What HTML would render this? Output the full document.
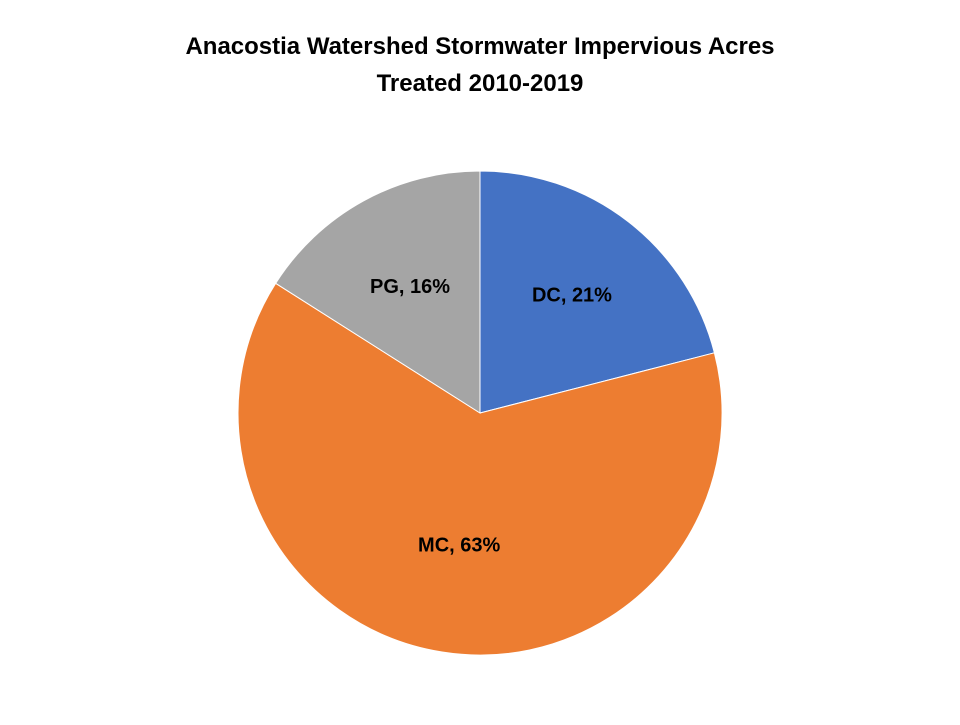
<!DOCTYPE html>
<html>
<head>
<meta charset="utf-8">
<style>
  html,body{margin:0;padding:0;background:#fff;}
  body{width:960px;height:720px;overflow:hidden;font-family:"Liberation Sans",sans-serif;}
  svg text{font-family:"Liberation Sans",sans-serif;font-weight:bold;}
</style>
</head>
<body>
<svg id="chart" width="960" height="720" viewBox="0 0 960 720">
  <rect width="960" height="720" fill="#fff"/>
  <text x="480" y="54" text-anchor="middle" font-size="24" fill="#000">Anacostia Watershed  Stormwater Impervious Acres</text>
  <text x="480" y="91" text-anchor="middle" font-size="24" fill="#000">Treated  2010-2019</text>
  <g id="slices"></g>
  <g id="labels"></g>
</svg>
<script>
const categories = ["DC", "MC", "PG"];
const values = [21, 63, 16];
const colors = ["#4472C4", "#ED7D31", "#A5A5A5"];
const labelRadiusFrac = [0.62, 0.55, 0.6];

const cx = 480, cy = 413, r = 242;
const NS = "http://www.w3.org/2000/svg";
const total = values.reduce((a,b)=>a+b,0);
function pt(angle, rad){ return [cx + rad*Math.sin(angle), cy - rad*Math.cos(angle)]; }

const gS = document.getElementById('slices');
const gL = document.getElementById('labels');
let start = 0;
values.forEach((v,i)=>{
  const sweep = v/total*2*Math.PI;
  const end = start + sweep;
  const [x1,y1] = pt(start, r), [x2,y2] = pt(end, r);
  const large = sweep > Math.PI ? 1 : 0;
  const p = document.createElementNS(NS,'path');
  p.setAttribute('d', `M${cx},${cy} L${x1},${y1} A${r},${r} 0 ${large} 1 ${x2},${y2} Z`);
  p.setAttribute('fill', colors[i]);
  p.setAttribute('stroke', '#fff');
  p.setAttribute('stroke-width', '1');
  
  
  gS.appendChild(p);

  const mid = start + sweep/2;
  const [lx,ly] = pt(mid, r*labelRadiusFrac[i]);
  const t = document.createElementNS(NS,'text');
  t.setAttribute('x', lx);
  t.setAttribute('y', ly + 7);
  t.setAttribute('text-anchor', 'middle');
  t.setAttribute('font-size', '20');
  t.setAttribute('fill', '#000');
  t.textContent = categories[i] + ", " + Math.round(v/total*100) + "%";
  
  
  gL.appendChild(t);
  start = end;
});
</script>
</body>
</html>
